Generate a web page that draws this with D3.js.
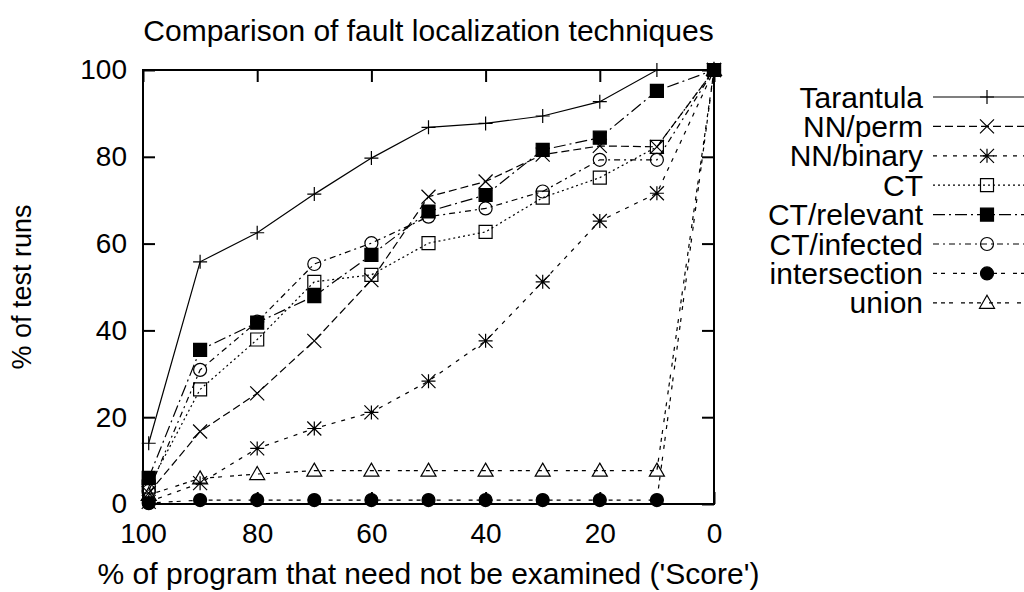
<!DOCTYPE html>
<html>
<head>
<meta charset="utf-8">
<script src="https://cdn.jsdelivr.net/npm/d3@7"></script>
<style>
  body { margin: 0; background: #fff; }
  text { font-family: "Liberation Sans", Arial, Helvetica, sans-serif; fill: #000; }
</style>
</head>
<body>
<div id="chart"></div>
<script>
let width = 1024;
let height = 592;
let margin = ({top: 70, right: 310, bottom: 88, left: 143});
let tickFont = 28;
let labelFont = 30;

// x positions (% of program that need not be examined)
let scores = [99, 90, 80, 70, 60, 50, 40, 30, 20, 10, 0];

// % of test runs per technique
let tarantula    = [14, 55.8, 62.5, 71.4, 79.7, 86.8, 87.7, 89.4, 92.7, 100, 100];
let nnPerm       = [2.5, 16.7, 25.5, 37.6, 51.6, 70.8, 74.3, 80.5, 82.5, 82.3, 100];
let nnBinary     = [0.5, 4.8, 12.8, 17.4, 21.1, 28.3, 37.6, 51.2, 65.2, 71.6, 100];
let ct           = [4, 26.4, 37.9, 51.2, 52.8, 60.1, 62.7, 70.6, 75.2, 82.3, 100];
let ctRelevant   = [6, 35.5, 41.8, 47.9, 57.4, 67.4, 71.2, 81.6, 84.4, 95.2, 100];
let ctInfected   = [3, 30.9, 42, 55.3, 60.1, 66.2, 68.1, 72.0, 79.3, 79.3, 100];
let intersection = [0.2, 0.9, 0.9, 0.9, 0.9, 0.9, 0.9, 0.9, 0.9, 0.9, 100];
let union        = [2.1, 5.9, 6.9, 7.7, 7.7, 7.7, 7.7, 7.7, 7.7, 7.7, 100];

let seriesNames = ["Tarantula", "NN/perm", "NN/binary", "CT", "CT/relevant", "CT/infected", "intersection", "union"];
let seriesValues = [tarantula, nnPerm, nnBinary, ct, ctRelevant, ctInfected, intersection, union];

let xTicks = [100, 80, 60, 40, 20, 0];
let yTicks = [0, 20, 40, 60, 80, 100];

// gnuplot style line dashes and point types
let unit = 2;
let dashes = [null, [4, 2], [2, 3], [1, 1.5], [6, 2, 1, 2], [3, 2, 1, 2], [2, 2, 2, 4], [2, 2, 2, 2, 2, 4]];
let pointTypes = ["plus", "cross", "star", "box", "boxF", "circle", "circleF", "triangle"];

let svg = d3.select("#chart")
    .append("svg")
    .attr("width", width)
    .attr("height", height);

let xScale = d3.scaleLinear()
    .domain([100, 0])
    .range([margin.left, width - margin.right]);

let yScale = d3.scaleLinear()
    .domain([0, 100])
    .range([height - margin.bottom, margin.top]);

let plotW = width - margin.right - margin.left;
let plotH = height - margin.bottom - margin.top;

// Axes: ticks pointing inward, mirrored on top and right
function styleAxis(g) {
    g.select(".domain").remove();
    g.selectAll(".tick line").attr("stroke", "#000").attr("stroke-width", 2);
    g.selectAll(".tick text").attr("font-size", tickFont).attr("font-family", null);
}

svg.append("g")
    .attr("transform", "translate(0," + (height - margin.bottom) + ")")
    .call(d3.axisBottom(xScale).tickValues(xTicks).tickSize(-12).tickPadding(19).tickFormat(d3.format("d")))
    .call(styleAxis);

svg.append("g")
    .attr("transform", "translate(0," + margin.top + ")")
    .call(d3.axisTop(xScale).tickValues(xTicks).tickSize(-12).tickFormat(""))
    .call(styleAxis);

svg.append("g")
    .attr("transform", "translate(" + margin.left + ",0)")
    .call(d3.axisLeft(yScale).tickValues(yTicks).tickSize(-12).tickPadding(16).tickFormat(d3.format("d")))
    .call(styleAxis);

svg.append("g")
    .attr("transform", "translate(" + (width - margin.right) + ",0)")
    .call(d3.axisRight(yScale).tickValues(yTicks).tickSize(-12).tickFormat(""))
    .call(styleAxis);

svg.append("rect")
    .attr("x", margin.left)
    .attr("y", margin.top)
    .attr("width", plotW)
    .attr("height", plotH)
    .attr("fill", "none")
    .attr("stroke", "#000")
    .attr("stroke-width", 2);

// Point symbols
function symbolPath(type, x, y) {
    let s = 7, b = 6.5, c = 6.5, t = 7.5;
    switch (type) {
        case "plus":
            return `M${x - s},${y}H${x + s}M${x},${y - s}V${y + s}`;
        case "cross":
            return `M${x - s},${y - s}L${x + s},${y + s}M${x - s},${y + s}L${x + s},${y - s}`;
        case "star":
            return `M${x - s},${y}H${x + s}M${x},${y - s}V${y + s}` +
                   `M${x - s},${y - s}L${x + s},${y + s}M${x - s},${y + s}L${x + s},${y - s}`;
        case "box":
        case "boxF":
            return `M${x - b},${y - b}H${x + b}V${y + b}H${x - b}Z`;
        case "circle":
        case "circleF":
            return `M${x - c},${y}A${c},${c} 0 1,0 ${x + c},${y}A${c},${c} 0 1,0 ${x - c},${y}Z`;
        case "triangle":
            return `M${x},${y - t}L${x + t},${y + 5.5}H${x - t}Z`;
    }
}

function drawPoint(g, type, x, y) {
    let filled = type === "boxF" || type === "circleF";
    g.append("path")
        .attr("d", symbolPath(type, x, y))
        .attr("fill", filled ? "#000" : "none")
        .attr("stroke", "#000")
        .attr("stroke-width", 1.2);
}

let line = d3.line()
    .x(function(d) { return xScale(d.x); })
    .y(function(d) { return yScale(d.y); });

seriesValues.forEach(function(values, i) {
    let pts = values.map(function(v, j) { return {x: scores[j], y: v}; });
    let g = svg.append("g").attr("class", "series");
    g.append("path")
        .datum(pts)
        .attr("d", line)
        .attr("fill", "none")
        .attr("stroke", "#000")
        .attr("stroke-width", 1.2)
        .attr("stroke-dasharray", dashes[i] ? dashes[i].map(function(d) { return d * unit; }).join(",") : null);
    pts.forEach(function(p) {
        drawPoint(g, pointTypes[i], xScale(p.x), yScale(p.y));
    });
});

// Legend
let legendTop = 97;
let legendStep = 29.4;
seriesNames.forEach(function(name, i) {
    let y = legendTop + i * legendStep;
    svg.append("text")
        .attr("x", 923)
        .attr("y", y)
        .attr("dy", "0.35em")
        .attr("text-anchor", "end")
        .attr("font-size", labelFont)
        .text(name);
    svg.append("line")
        .attr("x1", 933)
        .attr("x2", 1045)
        .attr("y1", y)
        .attr("y2", y)
        .attr("stroke", "#000")
        .attr("stroke-width", 1.2)
        .attr("stroke-dasharray", dashes[i] ? dashes[i].map(function(d) { return d * unit; }).join(",") : null);
    drawPoint(svg, pointTypes[i], 987, y);
});

// Titles
svg.append("text")
    .attr("x", margin.left + plotW / 2)
    .attr("y", 30)
    .attr("dy", "0.35em")
    .attr("text-anchor", "middle")
    .attr("font-size", labelFont)
    .text("Comparison of fault localization techniques");

svg.append("text")
    .attr("x", margin.left + plotW / 2)
    .attr("y", 573)
    .attr("dy", "0.35em")
    .attr("text-anchor", "middle")
    .attr("font-size", labelFont)
    .text("% of program that need not be examined ('Score')");

svg.append("text")
    .attr("transform", "translate(22," + (margin.top + plotH / 2) + ") rotate(-90)")
    .attr("dy", "0.35em")
    .attr("text-anchor", "middle")
    .attr("font-size", 27)
    .text("% of test runs");
</script>
</body>
</html>
